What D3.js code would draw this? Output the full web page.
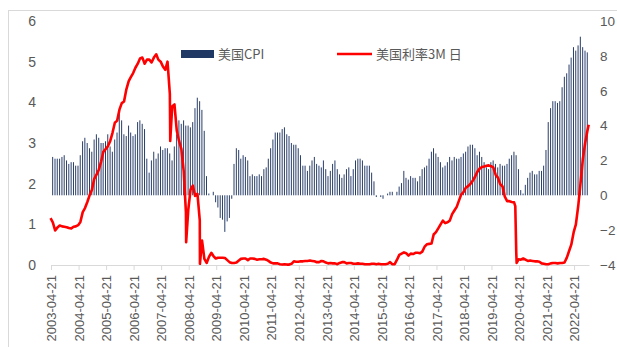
<!DOCTYPE html>
<html>
<head>
<meta charset="utf-8">
<script src="https://cdn.jsdelivr.net/npm/d3@7"></script>
<style>
  body { margin: 0; background: #fff; }
  svg { display: block; }
  .tick text { fill: #595959; }
</style>
</head>
<body>
<svg id="chart" width="617" height="347"></svg>
<script>
// US CPI YoY (%), monthly from 2003-04 to 2022-09, plotted at release (~13th of next month)
var cpiStart = [2003, 3];
var cpiValues = [
  2.2, 2.1, 2.1, 2.1, 2.2, 2.3, 2.0, 1.8, 1.9,
  1.9, 1.7, 1.7, 2.3, 3.1, 3.3, 3.0, 2.7, 2.5, 3.2, 3.5, 3.3,
  3.0, 3.0, 3.1, 3.5, 2.8, 2.5, 3.2, 3.6, 4.7, 4.3, 3.5, 3.4,
  4.0, 3.6, 3.4, 3.5, 4.2, 4.3, 4.1, 3.8, 2.1, 1.3, 2.0, 2.5,
  2.1, 2.4, 2.8, 2.6, 2.7, 2.7, 2.4, 2.0, 2.8, 3.5, 4.3, 4.1,
  4.3, 4.0, 4.0, 3.9, 4.2, 5.0, 5.6, 5.4, 4.9, 3.7, 1.1, 0.1,
  0.0, 0.2, -0.4, -0.7, -1.3, -1.4, -2.1, -1.5, -1.3, -0.2, 1.8, 2.7,
  2.6, 2.1, 2.3, 2.2, 2.0, 1.1, 1.2, 1.1, 1.1, 1.2, 1.1, 1.5,
  1.6, 2.1, 2.7, 3.2, 3.6, 3.6, 3.6, 3.8, 3.9, 3.5, 3.4, 3.0,
  2.9, 2.9, 2.7, 2.3, 1.7, 1.7, 1.4, 1.7, 2.0, 2.2, 1.8, 1.7,
  1.6, 2.0, 1.5, 1.1, 1.4, 1.8, 2.0, 1.5, 1.2, 1.0, 1.2, 1.5,
  1.6, 1.1, 1.5, 2.0, 2.1, 2.1, 2.0, 1.7, 1.7, 1.7, 1.3, 0.8,
  -0.1, 0.0, -0.1, -0.2, 0.0, 0.1, 0.2, 0.2, 0.0, 0.2, 0.5, 0.7,
  1.4, 1.0, 0.9, 1.1, 1.0, 1.0, 0.8, 1.1, 1.5, 1.6, 1.7, 2.1,
  2.5, 2.7, 2.4, 2.2, 1.9, 1.6, 1.7, 1.9, 2.2, 2.0, 2.2, 2.1,
  2.1, 2.2, 2.4, 2.5, 2.8, 2.9, 2.9, 2.7, 2.3, 2.5, 2.2, 1.9,
  1.6, 1.5, 1.9, 2.0, 1.8, 1.6, 1.8, 1.7, 1.7, 1.8, 2.1, 2.3,
  2.5, 2.3, 1.5, 0.3, 0.1, 0.6, 1.0, 1.3, 1.4, 1.2, 1.2, 1.4,
  1.4, 1.7, 2.6, 4.2, 5.0, 5.4, 5.4, 5.3, 5.4, 6.2, 6.8, 7.0,
  7.5, 7.9, 8.5, 8.3, 8.6, 9.1, 8.5, 8.3, 8.2
];

// 3M rate (%), mid-month readings from 2003-04 to 2022-10
var rateStart = [2003, 3];
var rateValues = [
  1.15, 1.05, 0.85, 0.92, 0.97, 0.95, 0.94, 0.93, 0.91,
  0.90, 0.94, 0.95, 0.98, 1.06, 1.30, 1.40, 1.55, 1.72, 1.85, 2.12, 2.22,
  2.35, 2.55, 2.78, 2.85, 2.92, 3.05, 3.25, 3.50, 3.55, 3.82, 3.98, 4.02,
  4.32, 4.52, 4.62, 4.72, 4.85, 4.95, 5.08, 5.10, 4.95, 5.05, 5.05, 4.98,
  5.10, 5.18, 5.05, 5.00, 4.88, 4.80, 5.00, 4.20, 3.90, 3.95, 3.30, 3.05,
  2.85, 2.30, 1.30, 1.35, 1.85, 1.95, 1.70, 1.75, 1.10, 0.60, 0.15, 0.05,
  0.20, 0.30, 0.22, 0.16, 0.18, 0.18, 0.18, 0.17, 0.12, 0.07, 0.05, 0.05,
  0.06, 0.11, 0.15, 0.16, 0.16, 0.12, 0.16, 0.16, 0.15, 0.13, 0.14, 0.14,
  0.15, 0.13, 0.10, 0.06, 0.04, 0.04, 0.04, 0.02, 0.01, 0.02, 0.01, 0.01,
  0.03, 0.09, 0.08, 0.08, 0.09, 0.09, 0.10, 0.10, 0.11, 0.10, 0.09, 0.07,
  0.07, 0.10, 0.09, 0.06, 0.04, 0.05, 0.04, 0.04, 0.02, 0.05, 0.07, 0.07,
  0.04, 0.05, 0.05, 0.03, 0.03, 0.04, 0.03, 0.03, 0.02, 0.02, 0.02, 0.03,
  0.03, 0.02, 0.03, 0.02, 0.02, 0.02, 0.03, 0.07, 0.02, 0.02, 0.13, 0.25,
  0.28, 0.31, 0.29, 0.23, 0.28, 0.27, 0.30, 0.30, 0.29, 0.33, 0.45, 0.51,
  0.52, 0.53, 0.75, 0.81, 0.90, 1.00, 1.09, 1.03, 1.05, 1.09, 1.25, 1.34,
  1.43, 1.59, 1.73, 1.79, 1.90, 1.94, 1.99, 2.07, 2.17, 2.29, 2.37, 2.41,
  2.42, 2.44, 2.45, 2.43, 2.40, 2.22, 2.15, 1.99, 1.93, 1.68, 1.57, 1.57,
  1.55, 1.54, 0.30, 0.14, 0.13, 0.16, 0.13, 0.10, 0.11, 0.10, 0.09, 0.09,
  0.08, 0.04, 0.03, 0.02, 0.02, 0.04, 0.05, 0.05, 0.04, 0.05, 0.05, 0.06,
  0.18, 0.35, 0.50, 0.80, 1.00, 1.45, 2.00, 2.60, 3.00, 3.30
];
// extra daily readings at sharp moves
var rateExtraDates = ["2007-08-20", "2008-03-18", "2008-09-17", "2020-03-02", "2020-03-20", "2022-11-01"];
var rateExtraValues = [3.05, 0.56, 0.03, 1.45, 0.05, 3.45];

var tickDates = ["2003-04-21","2004-04-21","2005-04-21","2006-04-21","2007-04-21","2008-04-21",
  "2009-04-21","2010-04-21","2011-04-21","2012-04-21","2013-04-21","2014-04-21","2015-04-21",
  "2016-04-21","2017-04-21","2018-04-21","2019-04-21","2020-04-21","2021-04-21","2022-04-21"];

var legendNames = ["美国CPI", "美国利率3M 日"];

var svg = d3.select("#chart");
var parse = d3.timeParse("%Y-%m-%d");

var x = d3.scaleTime().domain([parse("2003-04-21"), parse("2022-11-05")]).range([51, 589]);
var yL = d3.scaleLinear().domain([0, 6]).range([265, 21]);
var yR = d3.scaleLinear().domain([-4, 10]).range([265, 21]);

// outer frame
svg.append("rect")
  .attr("x", 8.5).attr("y", 10.5).attr("width", 640).attr("height", 400)
  .attr("fill", "none").attr("stroke", "#d9d9d9");

var cpi = cpiValues.map(function (v, i) {
  return { date: new Date(cpiStart[0], cpiStart[1] + i + 1, 13), value: v };
});

var rate = rateValues.map(function (v, i) {
  return { date: new Date(rateStart[0], rateStart[1] + i, 15), value: v };
});
rateExtraDates.forEach(function (d, i) {
  rate.push({ date: parse(d), value: rateExtraValues[i] });
});
rate.sort(function (a, b) { return a.date - b.date; });

// bottom axis
var xAxis = svg.append("g")
  .attr("transform", "translate(0,265)")
  .call(d3.axisBottom(x)
    .tickValues(tickDates.map(parse))
    .tickFormat(d3.timeFormat("%Y-%m-%d"))
    .tickSizeInner(5).tickSizeOuter(0));
xAxis.select(".domain").attr("stroke", "#d9d9d9");
xAxis.selectAll(".tick line").attr("stroke", "#d9d9d9");
xAxis.selectAll(".tick text")
  .attr("font-family", "'Liberation Sans', Arial, sans-serif")
  .attr("font-size", 13)
  .attr("text-anchor", "end")
  .attr("transform", "rotate(-90)")
  .attr("x", -10).attr("y", 0).attr("dy", "0.36em");

// left axis
var leftAxis = svg.append("g")
  .attr("transform", "translate(51,0)")
  .call(d3.axisLeft(yL).ticks(6).tickSize(0).tickPadding(15));
leftAxis.select(".domain").remove();
leftAxis.selectAll("text")
  .attr("font-family", "'Liberation Sans', Arial, sans-serif")
  .attr("font-size", 14);

// right axis
var rightAxis = svg.append("g")
  .attr("transform", "translate(589,0)")
  .call(d3.axisRight(yR).tickValues([-4, -2, 0, 2, 4, 6, 8, 10]).tickSize(0).tickPadding(11));
rightAxis.select(".domain").remove();
rightAxis.selectAll("text")
  .attr("font-family", "'Liberation Sans', Arial, sans-serif")
  .attr("font-size", 13.5);

// CPI bars
svg.append("g")
  .selectAll("rect")
  .data(cpi)
  .enter().append("rect")
  .attr("x", function (d) { return x(d.date) - 0.5; })
  .attr("width", 1)
  .attr("y", function (d) { return Math.min(yR(d.value), yR(0)); })
  .attr("height", function (d) { return Math.abs(yR(d.value) - yR(0)); })
  .attr("fill", "#2a3f6a");

// rate line
var line = d3.line()
  .x(function (d) { return x(d.date); })
  .y(function (d) { return yL(d.value); });

svg.append("path")
  .datum(rate)
  .attr("d", line)
  .attr("fill", "none")
  .attr("stroke", "#ff0000")
  .attr("stroke-width", 2.6)
  .attr("stroke-linejoin", "round");

// legend
var legend = svg.append("g")
  .attr("font-family", "'Noto Sans CJK SC', 'Noto Sans', sans-serif")
  .attr("font-size", 13)
  .attr("fill", "#595959");

legend.append("rect")
  .attr("x", 181).attr("y", 50).attr("width", 33).attr("height", 8)
  .attr("fill", "#1f3864");
legend.append("text")
  .attr("x", 218).attr("y", 58.5)
  .text(legendNames[0]);

legend.append("line")
  .attr("x1", 337).attr("x2", 372).attr("y1", 54).attr("y2", 54)
  .attr("stroke", "#ff0000").attr("stroke-width", 2.6);
legend.append("text")
  .attr("x", 376).attr("y", 58.5)
  .text(legendNames[1]);
</script>
</body>
</html>
